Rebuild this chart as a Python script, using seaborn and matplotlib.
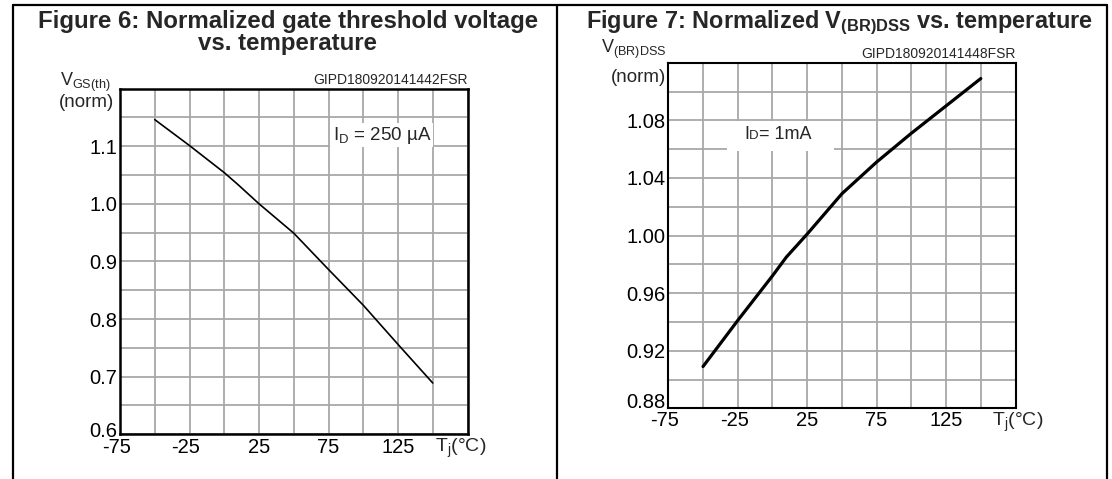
import matplotlib.pyplot as plt
import matplotlib.transforms as mtransforms
from matplotlib.lines import Line2D
from matplotlib.patches import Rectangle
from matplotlib.ticker import MultipleLocator
import seaborn as sns

# Figure 6: normalized gate threshold voltage
temp_gs = [-50, -25, 0, 10, 25, 50, 75, 100, 125, 150]
vgs_norm = [1.146, 1.101, 1.054, 1.033, 1.000, 0.949, 0.886, 0.824, 0.756, 0.689]

# Figure 7: normalized breakdown voltage
temp_br = [-50, -25, 0, 10, 25, 50, 75, 100, 125, 150]
vbr_norm = [0.909, 0.941, 0.972, 0.985, 1.001, 1.029, 1.051, 1.071, 1.090, 1.109]

x_ticks = [-75, -25, 25, 75, 125]
x_labels = ["-75", "-25", "25", "75", "125"]
gs_yticks = [0.6, 0.7, 0.8, 0.9, 1.0, 1.1]
gs_ylabels = ["0.6", "0.7", "0.8", "0.9", "1.0", "1.1"]
br_yticks = [0.88, 0.92, 0.96, 1.00, 1.04, 1.08]
br_ylabels = ["0.88", "0.92", "0.96", "1.00", "1.04", "1.08"]

sns.set_theme(style="white")
plt.rcParams["font.family"] = ["Liberation Sans", "DejaVu Sans"]
plt.rcParams["mathtext.fontset"] = "custom"
plt.rcParams["mathtext.rm"] = "Liberation Sans"
plt.rcParams["mathtext.bf"] = "Liberation Sans:bold"
plt.rcParams["axes.axisbelow"] = True

W, H = 1112, 479
fig = plt.figure(figsize=(W / 100, H / 100), dpi=100)


def fx(x):
    return x / W


def fy(y):
    return 1 - y / H


def box(left, top, right, bottom):
    return [fx(left), fy(bottom), (right - left) / W, (bottom - top) / H]


ax1 = fig.add_axes(box(120, 88.5, 467.5, 434.3))
ax2 = fig.add_axes(box(668.3, 62.7, 1015.5, 408.3))


def shift(label, dx, dy):
    label.set_transform(label.get_transform()
                        + mtransforms.ScaledTranslation(dx / 100, dy / 100, fig.dpi_scale_trans))


def style(ax, ylim, yticks, ylabels, ystep, spine_lw, last_up, xpad):
    ax.set_xlim(-75, 175)
    ax.set_ylim(*ylim)
    ax.set_xticks(x_ticks, x_labels)
    ax.set_yticks(yticks, ylabels)
    ax.xaxis.set_minor_locator(MultipleLocator(25))
    ax.yaxis.set_minor_locator(MultipleLocator(ystep))
    ax.grid(which="both", color="#a8a8a8", lw=1.3)
    ax.tick_params(which="both", length=0, labelsize=14.5, colors="black")
    ax.tick_params(axis="x", pad=xpad)
    ax.tick_params(axis="y", pad=2)
    for s in ax.spines.values():
        s.set_visible(True)
        s.set_color("black")
        s.set_linewidth(spine_lw)
    ax.set_xlabel("")
    ax.set_ylabel("")
    for lab in ax.get_xticklabels():
        if lab.get_text().startswith("-"):
            shift(lab, -3.5, 0)
    shift(ax.get_yticklabels()[0], 0, last_up)


sns.lineplot(x=temp_gs, y=vgs_norm, ax=ax1, color="black", lw=1.2, zorder=3)
sns.lineplot(x=temp_br, y=vbr_norm, ax=ax2, color="black", lw=2.3, zorder=3)

style(ax1, (0.6, 1.2), gs_yticks, gs_ylabels, 0.05, 1.8, 5, 3)
style(ax2, (0.88, 1.12), br_yticks, br_ylabels, 0.02, 1.5, 8, 2)

# condition boxes
ax1.add_patch(Rectangle((76, 1.099), 74, 0.041, facecolor="white", edgecolor="none", zorder=1.5))
ax1.text(78.5, 1.111, r"I$_{\mathregular{D}}$ = 250 µA", fontsize=13.5, va="baseline", zorder=4)

ax2.add_patch(Rectangle((-32.7, 1.059), 77, 0.0205, facecolor="white", edgecolor="none", zorder=1.5))
t_i = ax2.text(-20.5, 1.0673, "I", fontsize=13, va="baseline", zorder=4)
t_d = ax2.annotate("D", xy=(1, 1.0673), xycoords=(t_i, ax2.transData),
                   fontsize=9.5, va="baseline", zorder=4)
ax2.annotate("= 1mA", xy=(1, 1.0673), xycoords=(t_d, ax2.transData),
             fontsize=13, va="baseline", zorder=4)

# panel frame
frame = dict(color="black", lw=1.6, transform=fig.transFigure)
fig.add_artist(Line2D([fx(13), fx(1107)], [fy(5), fy(5)], **frame))
for xv in (13, 557, 1107):
    fig.add_artist(Line2D([fx(xv), fx(xv)], [fy(5), fy(480)], **frame))

# titles
fig.text(fx(288), fy(28), "Figure 6: Normalized gate threshold voltage",
         ha="center", va="baseline", fontsize=17.3, weight="bold")
fig.text(fx(288), fy(50), "vs. temperature",
         ha="center", va="baseline", fontsize=17.3, weight="bold")
fig.text(fx(839), fy(28), r"Figure 7: Normalized V$_{\mathregular{(BR)DSS}}$ vs. temperature",
         ha="center", va="baseline", fontsize=16.9, weight="bold")

# drawing codes
fig.text(fx(468), fy(84), "GIPD180920141442FSR", ha="right", va="baseline", fontsize=10)
fig.text(fx(1015.5), fy(58), "GIPD180920141448FSR", ha="right", va="baseline", fontsize=10)

# axis titles
fig.text(fx(111), fy(86), r"V$_{\mathregular{GS(th)}}$", ha="right", va="baseline", fontsize=13)
fig.text(fx(114), fy(107), "(norm)", ha="right", va="baseline", fontsize=13.5)
fig.text(fx(666), fy(53), r"V$_{\mathregular{(BR)DSS}}$", ha="right", va="baseline", fontsize=13)
fig.text(fx(666), fy(82), "(norm)", ha="right", va="baseline", fontsize=13.5)

fig.text(fx(435), fy(451.7), r"T$_{\mathregular{j}}$(°C)", ha="left", va="baseline", fontsize=14)
fig.text(fx(991.5), fy(426), r"T$_{\mathregular{j}}$(°C)", ha="left", va="baseline", fontsize=14)

fig.savefig("out.png", dpi=100, facecolor="white")
